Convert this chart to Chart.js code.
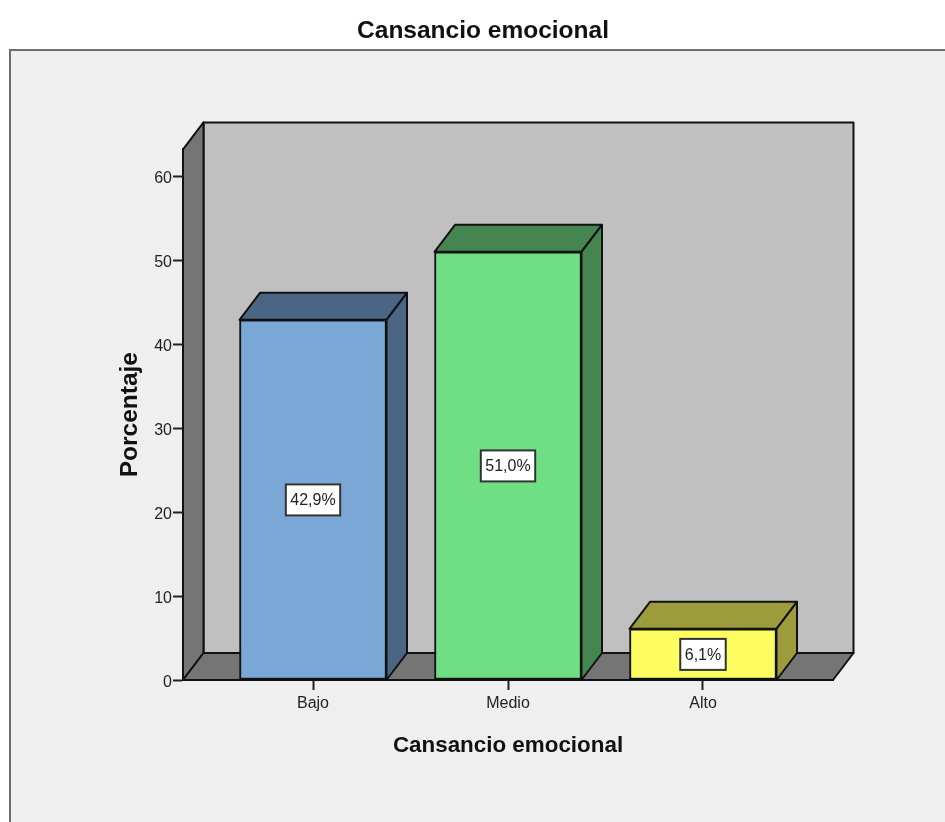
<!DOCTYPE html>
<html>
<head>
<meta charset="utf-8">
<title>Cansancio emocional</title>
<script src="https://cdn.jsdelivr.net/npm/chart.js@4"></script>
<style>
    html, body { margin: 0; padding: 0; background: #fff; overflow: hidden; }
    canvas { display: block; }
</style>
</head>
<body>
<canvas id="chart" width="945" height="822"></canvas>
<script>
const categories = ['Bajo', 'Medio', 'Alto'];
const percentages = [42.9, 51.0, 6.1];
const percentLabels = ['42,9%', '51,0%', '6,1%'];
const yTicks = [0, 10, 20, 30, 40, 50, 60];

const frontColors = ['#7ba7d7', '#70de85', '#fdfd62'];
const shadeColors = ['#4a6684', '#458650', '#9d9c3c'];

const depthX = 20.5;
const depthY = 27;
const font = 'Liberation Sans, Arial, sans-serif';

function poly(ctx, pts, fill) {
    ctx.beginPath();
    pts.forEach((p, i) => i ? ctx.lineTo(p[0], p[1]) : ctx.moveTo(p[0], p[1]));
    ctx.closePath();
    ctx.fillStyle = fill;
    ctx.fill();
    ctx.stroke();
}

// page frame and the 3d box behind the bars
const boxPlugin = {
    id: 'box',
    beforeDraw(chart) {
        const ctx = chart.ctx;
        const a = chart.chartArea;
        ctx.save();
        ctx.fillStyle = '#efefef';
        ctx.fillRect(10, 49, chart.width, chart.height);
        ctx.strokeStyle = '#6e6e6e';
        ctx.lineWidth = 2;
        ctx.beginPath();
        ctx.moveTo(10, chart.height);
        ctx.lineTo(10, 50);
        ctx.lineTo(chart.width, 50);
        ctx.stroke();

        ctx.strokeStyle = '#111';
        ctx.lineWidth = 2;
        ctx.lineJoin = 'round';
        const bx0 = a.left + depthX, bx1 = a.right + depthX;
        const by0 = a.bottom - depthY, by1 = a.top - depthY;
        poly(ctx, [[bx0, by1], [bx1, by1], [bx1, by0], [bx0, by0]], '#c0c0c0');
        poly(ctx, [[a.left, a.top], [bx0, by1], [bx0, by0], [a.left, a.bottom]], '#757575');
        poly(ctx, [[a.left, a.bottom], [bx0, by0], [bx1, by0], [a.right, a.bottom]], '#757575');
        ctx.restore();
    },
    beforeDatasetsDraw(chart) {
        const ctx = chart.ctx;
        const a = chart.chartArea;
        ctx.save();
        ctx.strokeStyle = '#111';
        ctx.lineWidth = 2;
        ctx.lineJoin = 'round';
        chart.getDatasetMeta(0).data.forEach((bar, i) => {
            const l = bar.x - bar.width / 2;
            const r = bar.x + bar.width / 2;
            poly(ctx, [[l, bar.y], [l + depthX, bar.y - depthY], [r + depthX, bar.y - depthY], [r, bar.y]], shadeColors[i]);
            poly(ctx, [[r, bar.y], [r + depthX, bar.y - depthY], [r + depthX, a.bottom - depthY], [r, a.bottom]], shadeColors[i]);
        });
        ctx.restore();
    },
    afterDatasetsDraw(chart) {
        // white boxes with the percentage in the middle of each bar
        const ctx = chart.ctx;
        const a = chart.chartArea;
        ctx.save();
        ctx.font = '16px ' + font;
        ctx.textAlign = 'center';
        ctx.textBaseline = 'middle';
        chart.getDatasetMeta(0).data.forEach((bar, i) => {
            const w = ctx.measureText(percentLabels[i]).width + 9;
            const h = 31;
            const cy = (bar.y + a.bottom) / 2;
            ctx.fillStyle = '#fff';
            ctx.strokeStyle = '#333';
            ctx.lineWidth = 2;
            ctx.fillRect(bar.x - w / 2, cy - h / 2, w, h);
            ctx.strokeRect(bar.x - w / 2, cy - h / 2, w, h);
            ctx.fillStyle = '#222';
            ctx.fillText(percentLabels[i], bar.x, cy + 1);
        });
        ctx.restore();
    }
};

new Chart(document.getElementById('chart'), {
    type: 'bar',
    data: {
        datasets: [{
            data: percentages.map((v, i) => ({ x: i, y: v })),
            backgroundColor: frontColors,
            borderColor: '#111',
            borderWidth: 2,
            borderSkipped: false,
            barThickness: 147
        }]
    },
    options: {
        responsive: false,
        animation: false,
        layout: { padding: { left: 133, right: 112, top: 0, bottom: 0 } },
        plugins: {
            legend: { display: false },
            tooltip: { enabled: false },
            title: {
                display: true,
                text: 'Cansancio emocional',
                color: '#111',
                font: { family: font, size: 24.5, weight: 'bold' },
                padding: { top: 17, bottom: 103 }
            }
        },
        scales: {
            x: {
                type: 'linear',
                bounds: 'data',
                offset: false,
                min: -0.6667,
                max: 2.6667,
                afterBuildTicks: axis => { axis.ticks = categories.map((c, i) => ({ value: i })); },
                afterFit: axis => { axis.height = 142; },
                grid: { offset: false, drawOnChartArea: false, drawTicks: true, tickLength: 10, tickColor: '#222', tickWidth: 2 },
                border: { color: '#111', width: 2 },
                ticks: {
                    callback: v => categories[v],
                    autoSkip: false,
                    maxRotation: 0,
                    color: '#222',
                    padding: 4,
                    font: { family: font, size: 16 }
                },
                title: {
                    display: true,
                    text: 'Cansancio emocional',
                    color: '#111',
                    font: { family: font, size: 22.4, weight: 'bold' },
                    padding: { top: 0, bottom: 63 }
                }
            },
            y: {
                bounds: 'data',
                min: 0,
                max: 63.2,
                afterBuildTicks: axis => { axis.ticks = yTicks.map(v => ({ value: v })); },
                afterFit: axis => { axis.width = 50; },
                grid: { drawOnChartArea: false, drawTicks: true, tickLength: 10, tickColor: '#222', tickWidth: 2 },
                border: { color: '#111', width: 2 },
                ticks: {
                    color: '#222',
                    padding: 1,
                    labelOffset: 2.5,
                    font: { family: font, size: 16 }
                },
                title: {
                    display: true,
                    text: 'Porcentaje',
                    color: '#111',
                    font: { family: font, size: 24.5, weight: 'bold' },
                    padding: { top: -17, bottom: 0 }
                }
            }
        }
    },
    plugins: [boxPlugin]
});
</script>
</body>
</html>
